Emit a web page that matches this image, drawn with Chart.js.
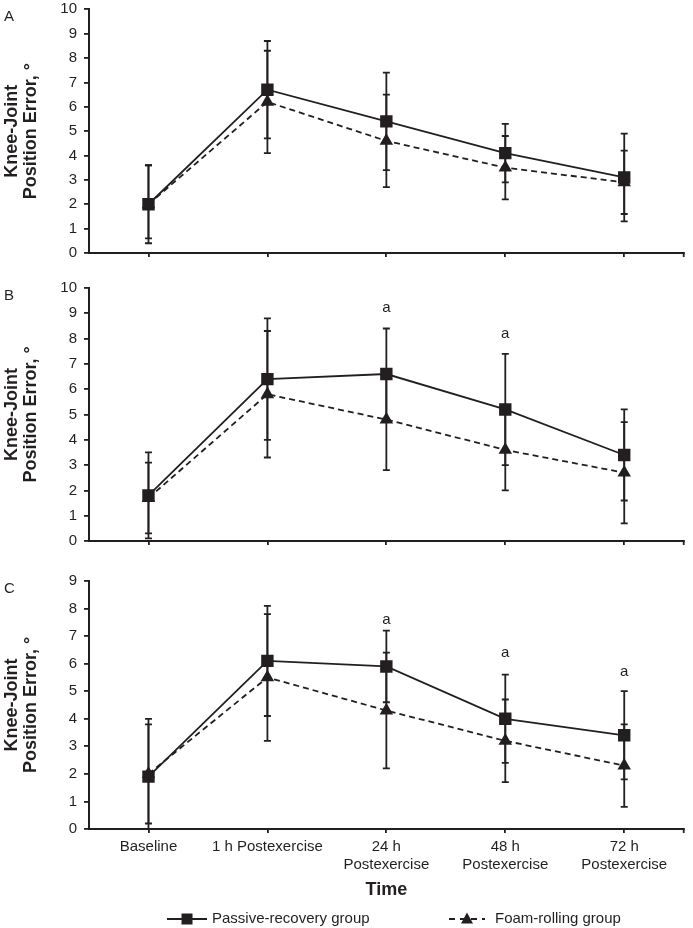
<!DOCTYPE html>
<html>
<head>
<meta charset="utf-8">
<script src="https://cdn.jsdelivr.net/npm/chart.js@4/dist/chart.umd.min.js"></script>
<style>
  html, body { margin: 0; padding: 0; background: #fff; }
  body { width: 693px; height: 928px; position: relative; overflow: hidden; }
  .panel { position: absolute; left: 0; width: 693px; }
</style>
</head>
<body>
<div class="panel" style="top:0;height:265px"><canvas id="chartA"></canvas></div>
<div class="panel" style="top:276px;height:277px"><canvas id="chartB"></canvas></div>
<div class="panel" style="top:560px;height:368px"><canvas id="chartC"></canvas></div>
<script>
// time points
const categories = ["Baseline", "1 h Postexercise", ["24 h", "Postexercise"], ["48 h", "Postexercise"], ["72 h", "Postexercise"]];

// panel A
const passiveA = [2.0, 6.7, 5.4, 4.1, 3.1];
const passiveALow = [0.4, 4.7, 3.4, 2.9, 1.3];
const passiveAHigh = [3.6, 8.7, 7.4, 5.3, 4.9];
const foamA = [2.0, 6.2, 4.6, 3.5, 2.9];
const foamALow = [0.6, 4.1, 2.7, 2.2, 1.6];
const foamAHigh = [3.6, 8.3, 6.5, 4.8, 4.2];
const sigA = [null, null, null, null, null];

// panel B
const passiveB = [1.8, 6.4, 6.6, 5.2, 3.4];
const passiveBLow = [0.1, 4.0, 4.8, 3.0, 1.6];
const passiveBHigh = [3.5, 8.8, 8.4, 7.4, 5.2];
const foamB = [1.7, 5.8, 4.8, 3.6, 2.7];
const foamBLow = [0.3, 3.3, 2.8, 2.0, 0.7];
const foamBHigh = [3.1, 8.3, 6.8, 5.2, 4.7];
const sigB = [null, null, 9.2, 8.2, null];

// panel C
const passiveC = [1.9, 6.1, 5.9, 4.0, 3.4];
const passiveCLow = [-0.2, 4.1, 4.6, 2.4, 1.8];
const passiveCHigh = [4.0, 8.1, 7.2, 5.6, 5.0];
const foamC = [2.0, 5.5, 4.3, 3.2, 2.3];
const foamCLow = [0.2, 3.2, 2.2, 1.7, 0.8];
const foamCHigh = [3.8, 7.8, 6.4, 4.7, 3.8];
const sigC = [null, null, 7.6, 6.4, 5.7];

const yTicksAB = [0, 1, 2, 3, 4, 5, 6, 7, 8, 9, 10];
const yTicksC = [0, 1, 2, 3, 4, 5, 6, 7, 8, 9];

const seriesNames = ["Passive-recovery group", "Foam-rolling group"];

const INK = "#231f20";
const FONT = "'Liberation Sans', Arial, sans-serif";

// error bars, significance marks, panel letter, right-end tick
const extras = {
  id: "extras",
  afterDatasetsDraw(chart, args, opts) {
    const { ctx, chartArea, scales: { x, y } } = chart;
    ctx.save();
    ctx.strokeStyle = INK;
    ctx.lineWidth = 1.8;
    chart.data.datasets.forEach(ds => {
      ds.data.forEach((v, i) => {
        const px = x.getPixelForValue(i);
        const lo = y.getPixelForValue(Math.max(ds.low[i], 0));
        const hi = y.getPixelForValue(ds.high[i]);
        ctx.beginPath();
        ctx.moveTo(px, lo); ctx.lineTo(px, hi);
        ctx.moveTo(px - 3.5, hi); ctx.lineTo(px + 3.5, hi);
        if (ds.low[i] > 0) { ctx.moveTo(px - 3.5, lo); ctx.lineTo(px + 3.5, lo); }
        ctx.stroke();
      });
    });
    ctx.restore();

    ctx.save();
    ctx.fillStyle = INK;
    ctx.font = "15px " + FONT;
    ctx.textAlign = "center";
    ctx.textBaseline = "middle";
    opts.sig.forEach((v, i) => {
      if (v !== null) ctx.fillText("a", x.getPixelForValue(i), y.getPixelForValue(v));
    });
    ctx.textAlign = "left";
    ctx.fillText(opts.letter, 4, chartArea.top + 8);
    // closing tick at the right end of the x axis
    ctx.strokeStyle = INK;
    ctx.lineWidth = 1.8;
    ctx.beginPath();
    ctx.moveTo(chartArea.right, chartArea.bottom);
    ctx.lineTo(chartArea.right, chartArea.bottom + 4);
    ctx.stroke();
    ctx.restore();
  }
};

// legend drawn under the bottom panel
const bottomLegend = {
  id: "bottomLegend",
  afterDraw(chart, args, opts) {
    if (!opts.show) return;
    const { ctx } = chart;
    const yy = chart.height - 9;
    ctx.save();
    ctx.strokeStyle = INK;
    ctx.fillStyle = INK;
    ctx.lineWidth = 1.8;
    ctx.font = "15px " + FONT;
    ctx.textBaseline = "middle";
    // passive
    ctx.beginPath(); ctx.moveTo(167, yy); ctx.lineTo(207, yy); ctx.stroke();
    ctx.fillRect(181.5, yy - 5.5, 11, 11);
    ctx.fillText(seriesNames[0], 212, yy);
    // foam
    ctx.setLineDash([6, 5]);
    ctx.beginPath(); ctx.moveTo(449, yy); ctx.lineTo(485, yy); ctx.stroke();
    ctx.setLineDash([]);
    ctx.beginPath();
    ctx.moveTo(467, yy - 6.5); ctx.lineTo(473, yy + 4.5); ctx.lineTo(461, yy + 4.5); ctx.closePath();
    ctx.fill();
    ctx.fillText(seriesNames[1], 495, yy);
    ctx.restore();
  }
};

function makePanel(id, letter, p, pLo, pHi, f, fLo, fHi, sig, yTicks, bottom) {
  const yMax = yTicks[yTicks.length - 1];
  new Chart(document.getElementById(id), {
    type: "line",
    data: {
      labels: categories,
      datasets: [
        {
          label: seriesNames[1], data: f, low: fLo, high: fHi,
          borderColor: INK, backgroundColor: INK, borderWidth: 1.8, borderDash: [6, 4],
          pointStyle: "triangle", pointRadius: 6, pointHoverRadius: 6, tension: 0
        },
        {
          label: seriesNames[0], data: p, low: pLo, high: pHi,
          borderColor: INK, backgroundColor: INK, borderWidth: 1.8,
          pointStyle: "rect", pointRadius: 7.5, pointHoverRadius: 7.5, tension: 0
        }
      ]
    },
    options: {
      responsive: true,
      maintainAspectRatio: false,
      animation: false,
      events: [],
      layout: { padding: { top: bottom ? 21 : (id === "chartA" ? 6 : 12), right: 1, left: 0, bottom: bottom ? 28 : 0 } },
      plugins: {
        legend: { display: false },
        tooltip: { enabled: false },
        extras: { sig: sig, letter: letter },
        bottomLegend: { show: bottom }
      },
      scales: {
        x: {
          type: "category",
          offset: true,
          grid: { offset: false, drawOnChartArea: false, drawTicks: true, tickLength: 4, color: INK, lineWidth: 1.8 },
          border: { color: INK, width: 2 },
          ticks: {
            display: bottom, color: INK, padding: 5, maxRotation: 0, autoSkip: false,
            font: { family: FONT, size: 15, lineHeight: 1.2 }
          },
          title: {
            display: bottom, text: "Time", color: INK, padding: { top: 0, bottom: 0 },
            font: { family: FONT, size: 18, weight: "bold", lineHeight: 1.1 }
          },
          afterFit(s) { s.height = bottom ? 71 : 12; }
        },
        y: {
          min: 0, max: yMax,
          afterBuildTicks(s) { s.ticks = yTicks.map(v => ({ value: v })); },
          grid: { drawOnChartArea: false, drawTicks: true, tickLength: 5, color: INK, lineWidth: 1.8 },
          border: { color: INK, width: 2 },
          ticks: { color: INK, padding: 7, font: { family: FONT, size: 15 } },
          title: {
            display: true, text: ["Knee-Joint", "Position Error, °"], color: INK,
            padding: { top: 3, bottom: 0 },
            font: { family: FONT, size: 18, weight: "bold", lineHeight: 1.05 }
          },
          afterFit(s) { s.width = 89; s.paddingTop = 0; s.paddingBottom = 0; }
        }
      }
    },
    plugins: [extras, bottomLegend]
  });
}

makePanel("chartA", "A", passiveA, passiveALow, passiveAHigh, foamA, foamALow, foamAHigh, sigA, yTicksAB, false);
makePanel("chartB", "B", passiveB, passiveBLow, passiveBHigh, foamB, foamBLow, foamBHigh, sigB, yTicksAB, false);
makePanel("chartC", "C", passiveC, passiveCLow, passiveCHigh, foamC, foamCLow, foamCHigh, sigC, yTicksC, true);
</script>
</body>
</html>
